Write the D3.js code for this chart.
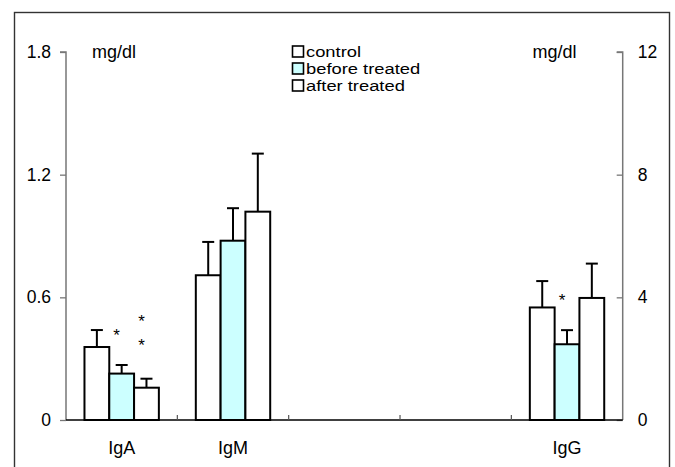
<!DOCTYPE html>
<html>
<head>
<meta charset="utf-8">
<script src="https://cdn.jsdelivr.net/npm/d3@7"></script>
<style>
    body { margin: 0; background: #fff; }
    svg text { font-family: "Liberation Sans", Arial, Helvetica, sans-serif; fill: #000; }
</style>
</head>
<body>
<div id="chart"></div>
<script>
// slots along the x axis (two empty ones between IgM and IgG)
const slots = ["IgA", "IgM", "s3", "s4", "IgG"];
const categories = ["IgA", "IgM", "IgG"];
const series = ["control", "before treated", "after treated"];
const seriesFill = ["#ffffff", "#ccffff", "#ffffff"];

// means and SD, IgA/IgM on left axis, IgG on right axis
const meanIgA = [0.357, 0.227, 0.158];
const sdIgA = [0.083, 0.042, 0.044];
const meanIgM = [0.708, 0.877, 1.019];
const sdIgM = [0.163, 0.159, 0.284];
const meanIgG = [3.67, 2.47, 3.98];
const sdIgG = [0.86, 0.46, 1.12];

const leftTicks = [0, 0.6, 1.2, 1.8];
const rightTicks = [0, 4, 8, 12];

// significance marks: category, series index, height (in that category's axis units)
const stars = [
    {cat: "IgA", s: 1, v: 0.43},
    {cat: "IgA", s: 2, v: 0.497},
    {cat: "IgA", s: 2, v: 0.38},
    {cat: "IgG", s: 1, v: 4.0}
];

const W = 675, H = 467;
const svg = d3.select("#chart").append("svg")
    .attr("width", W)
    .attr("height", H);

// outer frame
svg.append("rect")
    .attr("x", 14.5).attr("y", 12.5)
    .attr("width", 655).attr("height", 470)
    .attr("fill", "none")
    .attr("stroke", "#333")
    .attr("stroke-width", 1.4);

const x0 = 66, x1 = 622.7, yBase = 420, yTop = 52;

const x = d3.scaleBand().domain(slots).range([x0, x1]).padding(0);
const xs = d3.scaleBand().domain(d3.range(series.length))
    .range([0, x.bandwidth()]).paddingInner(0).paddingOuter(0.745);

const yL = d3.scaleLinear().domain([0, 1.8]).range([yBase, yTop]);
const yR = d3.scaleLinear().domain([0, 12]).range([yBase, yTop]);

const data = [
    {cat: "IgA", mean: meanIgA, sd: sdIgA, y: yL},
    {cat: "IgM", mean: meanIgM, sd: sdIgM, y: yL},
    {cat: "IgG", mean: meanIgG, sd: sdIgG, y: yR}
];

// left axis
const axL = svg.append("g")
    .attr("transform", `translate(${x0},0)`)
    .call(d3.axisLeft(yL).tickValues(leftTicks).tickSize(6).tickPadding(9)
        .tickFormat(d => d === 0 ? "0" : d3.format(".1f")(d)));
axL.select(".domain").attr("stroke", "#777").attr("stroke-width", 1.5).attr("d", `M-6,${yTop}H0V${yBase}`);
axL.selectAll(".tick line").attr("stroke", "#777").attr("stroke-width", 1.3);
axL.selectAll(".tick text").attr("font-size", 17.5).attr("font-family", null).attr("fill", "#000");

// right axis (ticks on the inside)
const axR = svg.append("g")
    .attr("transform", `translate(${x1},0)`)
    .call(d3.axisRight(yR).tickValues(rightTicks).tickSize(-6).tickPadding(15));
axR.select(".domain").attr("stroke", "#777").attr("stroke-width", 1.5).attr("d", `M-6,${yTop}H0V${yBase}`);
axR.selectAll(".tick line").attr("stroke", "#777").attr("stroke-width", 1.3);
axR.selectAll(".tick text").attr("font-size", 17.5).attr("font-family", null).attr("fill", "#000");

// x baseline with slot separators
svg.append("line")
    .attr("x1", x0).attr("x2", x1)
    .attr("y1", yBase).attr("y2", yBase)
    .attr("stroke", "#000").attr("stroke-width", 1.5);
svg.selectAll(".sep")
    .data(slots.slice(1))
    .enter().append("line")
    .attr("class", "sep")
    .attr("x1", d => x(d)).attr("x2", d => x(d))
    .attr("y1", yBase).attr("y2", yBase - 5)
    .attr("stroke", "#555").attr("stroke-width", 1.2);

// category labels
svg.selectAll(".catLabel")
    .data(categories)
    .enter().append("text")
    .attr("class", "catLabel")
    .attr("x", d => x(d) + x.bandwidth() / 2)
    .attr("y", 454)
    .attr("text-anchor", "middle")
    .attr("font-size", 18)
    .text(d => d);

// bars + error bars
const groups = svg.selectAll(".grp")
    .data(data)
    .enter().append("g")
    .attr("class", "grp")
    .attr("transform", d => `translate(${x(d.cat)},0)`);

groups.each(function (g) {
    const sel = d3.select(this);
    const rows = g.mean.map((m, i) => ({i: i, m: m, sd: g.sd[i]}));

    // error bars first so the bar outline covers the stem
    rows.forEach(r => {
        const cx = xs(r.i) + xs.bandwidth() / 2;
        sel.append("line")
            .attr("x1", cx).attr("x2", cx)
            .attr("y1", g.y(r.m)).attr("y2", g.y(r.m + r.sd))
            .attr("stroke", "#000").attr("stroke-width", 2);
        sel.append("line")
            .attr("x1", cx - 6).attr("x2", cx + 6)
            .attr("y1", g.y(r.m + r.sd)).attr("y2", g.y(r.m + r.sd))
            .attr("stroke", "#000").attr("stroke-width", 2);
    });

    sel.selectAll("rect")
        .data(rows)
        .enter().append("rect")
        .attr("x", d => xs(d.i))
        .attr("y", d => g.y(d.m))
        .attr("width", xs.bandwidth())
        .attr("height", d => yBase - g.y(d.m))
        .attr("fill", d => seriesFill[d.i])
        .attr("stroke", "#000")
        .attr("stroke-width", 2);
});

// asterisks
svg.selectAll(".star")
    .data(stars)
    .enter().append("text")
    .attr("class", "star")
    .attr("x", d => x(d.cat) + xs(d.s) + xs.bandwidth() / 2 - 5)
    .attr("y", d => (d.cat === "IgG" ? yR(d.v) : yL(d.v)) + 9)
    .attr("text-anchor", "middle")
    .attr("font-size", 17)
    .text("*");

// units
svg.append("text")
    .attr("x", 114).attr("y", 58)
    .attr("text-anchor", "middle")
    .attr("font-size", 18)
    .text("mg/dl");
svg.append("text")
    .attr("x", 554.5).attr("y", 58)
    .attr("text-anchor", "middle")
    .attr("font-size", 18)
    .text("mg/dl");

// legend
const legend = svg.append("g")
    .attr("class", "legend")
    .attr("transform", "translate(292, 46)");

const li = legend.selectAll(".item")
    .data(series)
    .enter().append("g")
    .attr("class", "item")
    .attr("transform", (d, i) => `translate(0, ${i * 17})`);

li.append("rect")
    .attr("x", 0.5).attr("y", 0)
    .attr("width", 11).attr("height", 11)
    .attr("fill", (d, i) => seriesFill[i])
    .attr("stroke", "#000")
    .attr("stroke-width", 1.6);

// the legend font is set tight and a little wide, as in the source figure
li.append("text")
    .attr("transform", "translate(14, 11.3) scale(1.2, 1)")
    .attr("font-size", 15.3)
    .text(d => d);
</script>
</body>
</html>
